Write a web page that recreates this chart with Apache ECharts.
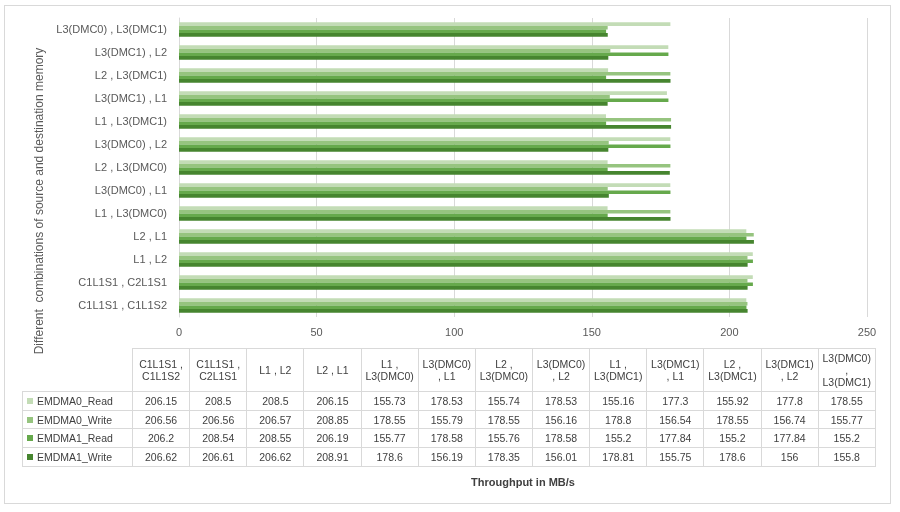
<!DOCTYPE html>
<html>
<head>
<meta charset="utf-8">
<script src="https://cdn.jsdelivr.net/npm/echarts@6/dist/echarts.min.js"></script>
<style>
  html, body { margin: 0; padding: 0; background: #fff; }
  #wrap { position: relative; width: 900px; height: 512px; overflow: hidden; font-family: "Liberation Sans", Arial, sans-serif; }
  #frame { position: absolute; left: 4px; top: 5px; width: 887px; height: 499px; border: 1px solid #d9d9d9; box-sizing: border-box; }
  #chart { position: absolute; left: 0; top: 0; width: 900px; height: 512px; }
  #tbl { position: absolute; left: 22px; top: 348px; border-collapse: collapse; table-layout: fixed; font-size: 10.5px; color: #404040; }
  #tbl td { border: 1px solid #d9d9d9; text-align: center; padding: 0 3px; line-height: 12px; }
  #tbl tr.h td { height: 42px; }
  #tbl tr.d td { height: 17.7px; }
  #tbl td.blank { border: none; }
  #tbl td.lab { text-align: left; padding-left: 4px; white-space: nowrap; }
  .key { display: inline-block; width: 6px; height: 6px; margin-right: 4px; vertical-align: 1px; }
</style>
</head>
<body>
<div id="wrap">
  <div id="frame"></div>
  <div id="chart"></div>
  <table id="tbl"></table>
</div>
<script>
const categories = ["C1L1S1 , C1L1S2", "C1L1S1 , C2L1S1", "L1 , L2", "L2 , L1", "L1 , L3(DMC0)", "L3(DMC0) , L1", "L2 , L3(DMC0)", "L3(DMC0) , L2", "L1 , L3(DMC1)", "L3(DMC1) , L1", "L2 , L3(DMC1)", "L3(DMC1) , L2", "L3(DMC0) , L3(DMC1)"];
const seriesNames = ["EMDMA0_Read", "EMDMA0_Write", "EMDMA1_Read", "EMDMA1_Write"];
const emdma0Read  = [206.15, 208.5, 208.5, 206.15, 155.73, 178.53, 155.74, 178.53, 155.16, 177.3, 155.92, 177.8, 178.55];
const emdma0Write = [206.56, 206.56, 206.57, 208.85, 178.55, 155.79, 178.55, 156.16, 178.8, 156.54, 178.55, 156.74, 155.77];
const emdma1Read  = [206.2, 208.54, 208.55, 206.19, 155.77, 178.58, 155.76, 178.58, 155.2, 177.84, 155.2, 177.84, 155.2];
const emdma1Write = [206.62, 206.61, 206.62, 208.91, 178.6, 156.19, 178.35, 156.01, 178.81, 155.75, 178.6, 156, 155.8];
const xTicks = [0, 50, 100, 150, 200, 250];
const colors = ["#c3dcb6", "#96c47f", "#66a94c", "#46852f"];
const allValues = [emdma0Read, emdma0Write, emdma1Read, emdma1Write];

// Build data table
const tbl = document.getElementById('tbl');
let html = '<colgroup><col style="width:110px">' + categories.map(() => '<col style="width:57.15px">').join('') + '</colgroup>';
html += '<tr class="h"><td class="blank"></td>' + categories.map(c => '<td>' + c + '</td>').join('') + '</tr>';
allValues.forEach((vals, i) => {
  html += '<tr class="d"><td class="lab"><span class="key" style="background:' + colors[i] + '"></span>' + seriesNames[i] + '</td>' +
    vals.map(v => '<td>' + v + '</td>').join('') + '</tr>';
});
tbl.innerHTML = html;

const chart = echarts.init(document.getElementById('chart'));
chart.setOption({
  animation: false,
  textStyle: { fontFamily: 'Liberation Sans, Arial, sans-serif' },
  grid: { left: 179, right: 33, top: 18, bottom: 195, containLabel: false },
  xAxis: {
    type: 'value', min: xTicks[0], max: xTicks[xTicks.length - 1], interval: 50,
    axisLine: { show: false }, axisTick: { show: false },
    axisLabel: { color: '#595959', fontSize: 11, margin: 10 },
    splitLine: { lineStyle: { color: '#d9d9d9' } }
  },
  yAxis: {
    type: 'category', data: categories,
    axisLine: { lineStyle: { color: '#d9d9d9' } }, axisTick: { show: false },
    axisLabel: { color: '#595959', fontSize: 11, margin: 12 }
  },
  series: seriesNames.map((n, i) => ({
    name: n, type: 'bar', data: allValues[i],
    barWidth: 3.6, barGap: '0%',
    itemStyle: { color: colors[i] }
  })),
  graphic: [
    { type: 'text', x: 40, y: 201, rotation: Math.PI / 2,
      style: { text: 'Different  combinations of source and destination memory', fill: '#595959', font: '12px Liberation Sans, Arial, sans-serif', textAlign: 'center', textVerticalAlign: 'middle' } },
    { type: 'text', x: 523, y: 483,
      style: { text: 'Throughput in MB/s', fill: '#404040', font: 'bold 11px Liberation Sans, Arial, sans-serif', textAlign: 'center', textVerticalAlign: 'middle' } }
  ]
});
</script>
</body>
</html>
